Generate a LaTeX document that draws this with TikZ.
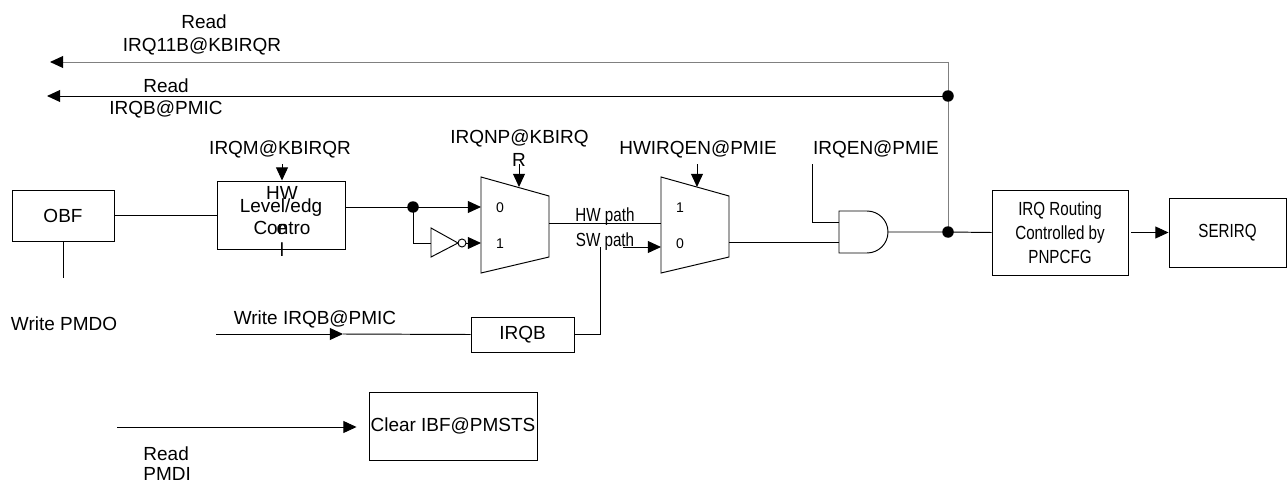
\documentclass[tikz,border=0pt]{standalone}
\usepackage{fontspec}
\setmainfont{Liberation Sans}
\newfontfamily\narrowsf[FakeStretch=0.8]{Liberation Sans}
\usetikzlibrary{arrows.meta}

\begin{document}
\begin{tikzpicture}[x=0.02cm,y=-0.02cm,line width=0.55pt,
    every node/.style={font=\fontsize{10.8}{13}\selectfont,inner sep=0pt},
    box/.style={draw,inner sep=0pt},
    lbl/.style={anchor=base},
    pin/.style={anchor=base,font=\fontsize{8}{9}\selectfont},
    narrow/.style={font=\narrowsf\fontsize{10.8}{13.6}\selectfont},
    arr/.style={-{Triangle[length=7.5pt,width=6.8pt,black]}}]
  \useasboundingbox (0,0) rectangle (1287,483);

  % read-back paths at the top
  \coordinate (j1) at (948,62);
  \coordinate (j2) at (948,96);
  \coordinate (j3) at (948,232);
  \coordinate (rdkb) at (50,62);
  \coordinate (rdpm) at (47,96);
  \draw [gray,arr] (j1) -- (rdkb);
  \draw [arr] (j2) -- (rdpm);
  \draw [gray] (j1) -- (j3);
  \node [lbl] (rdkbA) at (204,29) {Read};
  \node [lbl] (rdkbB) at (202,52) {IRQ11B@KBIRQR};
  \node [lbl] (rdpmA) at (166,92) {Read};
  \node [lbl] (rdpmB) at (166,114) {IRQB@PMIC};

  % OBF and HW level/edge control
  \node [box,minimum width=2.04cm,minimum height=1.02cm] (obf) at (63,215.5) {OBF};
  \coordinate (pmdo) at (63,278);
  \draw (obf.south) -- (pmdo);
  \node [lbl] (wpmdo) at (64,330) {Write PMDO};
  \node [box,minimum width=2.56cm,minimum height=1.36cm] (lvl) at (281,215) {};
  \draw (obf.east) -- (obf.east -| lvl.west);
  \coordinate (irqm) at (282,164);
  \node [lbl] (irqmL) at (280,154) {IRQM@KBIRQR};
  \draw [arr] (irqm) -- (irqm |- lvl.north);
  \node [lbl] (lvlA) at (282,199) {HW};
  \node [lbl] (lvlB) at (281,212) {Level/edg};
  \node [lbl] (lvlC) at (282,234) {Contro};
  \node [lbl] (lvlD) at (282,234) {e};
  \node [lbl] (lvlE) at (282,256) {l};

  % polarity mux
  \draw (481,177) -- (549,196) -- (549,257) -- (481,273) -- cycle;
  \coordinate (m1i0) at (481,207);
  \coordinate (m1i1) at (481,243);
  \coordinate (m1s) at (519,187);
  \coordinate (m1o) at (549,223);
  \node [pin] (m1p0) at (500,212) {0};
  \node [pin] (m1p1) at (500,248) {1};
  \coordinate (d1) at (413,207);
  \draw (lvl.east |- d1) -- (d1);
  \draw [arr] (d1) -- (m1i0);
  \draw (431,228) -- (458,243) -- (431,257) -- cycle;
  \draw (462,243) circle [radius=0.08cm];
  \coordinate (invin) at (431,243);
  \coordinate (invout) at (466,243);
  \draw (d1) |- (invin);
  \draw [arr] (invout) -- (m1i1);
  \node [lbl] (npL) at (519.5,143) {IRQNP@KBIRQ};
  \node [lbl] (npR) at (519,166) {R};
  \coordinate (m1sel) at (519,164);
  \draw [arr] (m1sel) -- (m1s);

  % HW / SW path mux
  \draw (661,177) -- (729,196) -- (729,257) -- (661,273) -- cycle;
  \coordinate (m2i1) at (661,223);
  \coordinate (m2i0) at (661,247);
  \coordinate (m2s) at (697,187);
  \coordinate (m2o) at (729,242);
  \node [pin] (m2p1) at (680,212) {1};
  \node [pin] (m2p0) at (680,248) {0};
  \draw (m1o) -- (m2i1);
  \node [lbl,narrow] (hwp) at (605,221) {HW path};
  \node [lbl,narrow] (swp) at (605,246) {SW path};
  \coordinate (swa) at (623,247);
  \draw [arr] (swa) -- (m2i0);
  \node [lbl] (hwenL) at (698,154) {HWIRQEN@PMIE};
  \coordinate (m2sel) at (697,164);
  \draw [arr] (m2sel) -- (m2s);

  % software IRQB
  \node [box,minimum width=2.06cm,minimum height=0.7cm] (irqb) at (522.5,334.5) {IRQB};
  \coordinate (wrq) at (216,334);
  \coordinate (wrqm) at (343,334);
  \draw [arr] (wrq) -- (wrqm);
  \draw (wrqm) -- (irqb.west);
  \node [lbl] (wrqL) at (315,324) {Write IRQB@PMIC};
  \coordinate (swb) at (600,247);
  \draw (irqb.east) -| (swb);

  % enable gate
  \draw (839,211) -- (867,211) arc [start angle=90,end angle=-90,radius=0.42cm]
        -- (839,253) -- cycle;
  \coordinate (a1) at (839,222);
  \coordinate (a2) at (839,242);
  \coordinate (ao) at (888,232);
  \draw (m2o) -- (a2);
  \node [lbl] (irqenL) at (876,154) {IRQEN@PMIE};
  \coordinate (irqen) at (812,164);
  \draw (irqen) |- (a1);

  % routing to SERIRQ
  \node [box,narrow,align=center,minimum width=2.72cm,minimum height=1.7cm] (route)
        at (1060,232.5) {IRQ Routing\\Controlled by\\PNPCFG};
  \node [box,narrow,minimum width=2.34cm,minimum height=1.38cm] (serirq)
        at (1227.5,232.5) {SERIRQ};
  \draw (ao) -- (j3) -- (route.west);
  \draw [arr,shorten <=0.06cm] (route.east) -- (serirq.west);
  \fill (j2) circle [radius=0.115cm];
  \fill (j3) circle [radius=0.115cm];
  \fill (d1) circle [radius=0.115cm];

  % read PMDI
  \node [box,minimum width=3.36cm,minimum height=1.36cm] (clr) at (453,426) {Clear IBF@PMSTS};
  \coordinate (pmdi) at (117,427);
  \draw [arr,shorten >=0.24cm] (pmdi) -- (pmdi -| clr.west);
  \node [anchor=base west] (pmdiA) at (143,460) {Read};
  \node [anchor=base west] (pmdiB) at (143,480) {PMDI};
\end{tikzpicture}
\end{document}
